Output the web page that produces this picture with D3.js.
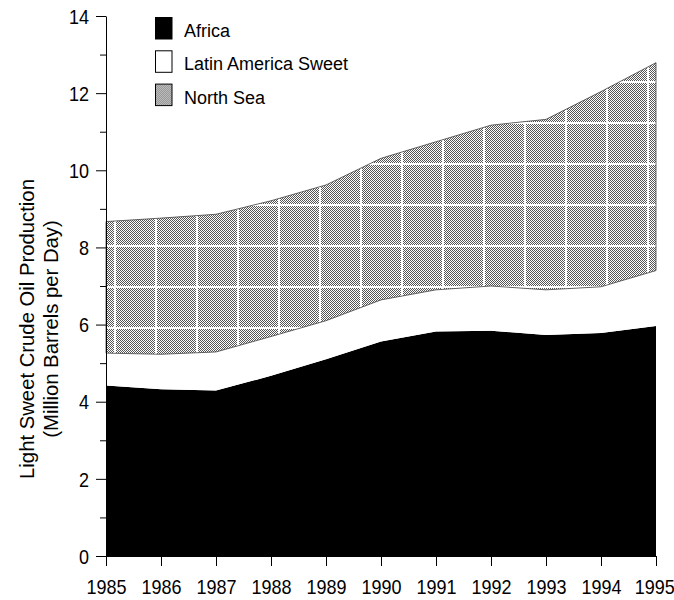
<!DOCTYPE html>
<html>
<head>
<meta charset="utf-8">
<script src="https://cdn.jsdelivr.net/npm/d3@7"></script>
<style>
  html, body { margin: 0; padding: 0; background: #fff; }
  svg { display: block; }
  text { font-family: "Liberation Sans", Arial, sans-serif; fill: #000; }
</style>
</head>
<body>
<svg id="chart" width="674" height="600"></svg>
<script>
const years = [1985, 1986, 1987, 1988, 1989, 1990, 1991, 1992, 1993, 1994, 1995];
const africa = [4.42, 4.32, 4.29, 4.67, 5.10, 5.56, 5.82, 5.84, 5.73, 5.78, 5.96];
const latinAmericaSweet = [0.84, 0.91, 1.00, 1.02, 1.00, 1.08, 1.08, 1.16, 1.17, 1.20, 1.44];
const northSea = [3.41, 3.53, 3.57, 3.52, 3.52, 3.67, 3.84, 4.17, 4.42, 5.06, 5.39];
const seriesNames = ["Africa", "Latin America Sweet", "North Sea"];
const yMajorTicks = [0, 2, 4, 6, 8, 10, 12, 14];
const yMinorTicks = [1, 3, 5, 7, 9, 11, 13];
const yTitleLines = ["Light Sweet Crude Oil Production", "(Million Barrels per Day)"];

const rows = years.map((yr, i) => ({
  year: yr,
  "Africa": africa[i],
  "Latin America Sweet": latinAmericaSweet[i],
  "North Sea": northSea[i]
}));

const svg = d3.select("#chart");
const plotLeft = 106, plotRight = 656, plotTop = 16, plotBottom = 556;
const squeeze = 0.9;

const x = d3.scaleLinear().domain([1985, 1995]).range([plotLeft, plotRight]);
const y = d3.scaleLinear().domain([0, 14]).range([plotBottom, plotTop]);

// patterns
const defs = svg.append("defs");
const checker = defs.append("pattern")
  .attr("id", "checker").attr("patternUnits", "userSpaceOnUse")
  .attr("x", 0).attr("y", 0).attr("width", 2).attr("height", 2);
checker.append("rect").attr("x", 0).attr("y", 0).attr("width", 2).attr("height", 2).attr("fill", "#fff");
checker.append("rect").attr("x", 0).attr("y", 0).attr("width", 1).attr("height", 1).attr("fill", "#555");
checker.append("rect").attr("x", 1).attr("y", 1).attr("width", 1).attr("height", 1).attr("fill", "#555");

const grid = defs.append("pattern")
  .attr("id", "gridlines").attr("patternUnits", "userSpaceOnUse")
  .attr("x", 32).attr("y", 40).attr("width", 41).attr("height", 41);
grid.append("rect").attr("x", 0).attr("y", 0).attr("width", 2).attr("height", 41).attr("fill", "#fff");
grid.append("rect").attr("x", 0).attr("y", 0).attr("width", 41).attr("height", 2).attr("fill", "#fff");

const stack = d3.stack().keys(seriesNames);
const layers = stack(rows);

const area = d3.area()
  .x(d => x(d.data.year))
  .y0(d => y(d[0]))
  .y1(d => y(d[1]));

// Africa
svg.append("path").datum(layers[0]).attr("d", area).attr("fill", "#000");
// Latin America Sweet
svg.append("path").datum(layers[1]).attr("d", area).attr("fill", "#fff");
// North Sea
svg.append("path").datum(layers[2]).attr("d", area).attr("fill", "url(#checker)");
svg.append("path").datum(layers[2]).attr("d", area).attr("fill", "url(#gridlines)")
  .attr("stroke", "#444").attr("stroke-width", 0.8);

// Y axis
const yAxis = d3.axisLeft(y).tickValues(yMajorTicks).tickSize(10).tickSizeOuter(0).tickPadding(7);
const gy = svg.append("g").attr("transform", `translate(${plotLeft},0)`).call(yAxis);
const yMinor = d3.axisLeft(y).tickValues(yMinorTicks).tickSize(6).tickSizeOuter(0).tickFormat("");
const gym = svg.append("g").attr("transform", `translate(${plotLeft},0)`).call(yMinor);
gym.select(".domain").remove();

// X axis
const xAxis = d3.axisBottom(x).tickValues(years).tickFormat(d3.format("d")).tickSize(10).tickSizeOuter(0).tickPadding(14);
const gx = svg.append("g").attr("transform", `translate(0,${plotBottom})`).call(xAxis);

[gy, gym, gx].forEach(g => {
  g.selectAll("path, line").attr("stroke", "#000").attr("stroke-width", 1);
  g.selectAll("text").attr("font-family", "'Liberation Sans', Arial, sans-serif").attr("fill", "#000");
});
gy.selectAll("text")
  .attr("font-size", 20)
  .attr("dy", "0.36em")
  .attr("x", -17 / squeeze)
  .attr("transform", `scale(${squeeze},1)`);
gx.selectAll("text")
  .attr("font-size", 20)
  .attr("transform", `scale(${squeeze},1)`);
gx.selectAll(".tick").filter(d => d === years[years.length - 1]).select("text").attr("dx", -2);

// Y title
const yt = svg.append("text")
  .attr("transform", "translate(0,329) rotate(-90)")
  .attr("text-anchor", "middle")
  .attr("font-size", 20.3);
yt.selectAll("tspan").data(yTitleLines).join("tspan")
  .attr("x", 0)
  .attr("y", (d, i) => 34 + i * 24)
  .text(d => d);

// Legend
const legendFills = ["#000", "#fff", "url(#checker)"];
const lg = svg.append("g").attr("transform", "translate(155,17)");
const items = lg.selectAll("g").data(seriesNames).join("g")
  .attr("transform", (d, i) => `translate(0,${i * 33.3})`);
items.append("rect")
  .attr("x", 0.5).attr("y", 0.5).attr("width", 16.5).attr("height", 21.5)
  .attr("fill", (d, i) => legendFills[i])
  .attr("stroke", "#000").attr("stroke-width", 1);
items.append("text")
  .attr("x", 29).attr("y", 20)
  .attr("font-size", 18)
  .text(d => d);
</script>
</body>
</html>
